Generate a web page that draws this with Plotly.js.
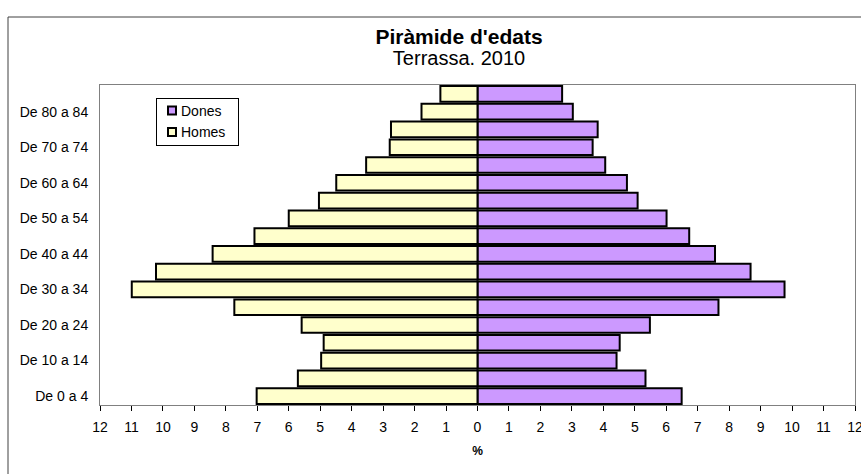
<!DOCTYPE html>
<html>
<head>
<meta charset="utf-8">
<script src="https://cdn.plot.ly/plotly-3.0.1.min.js"></script>
<style>html,body{margin:0;padding:0;background:#fff;}#chart{width:861px;height:474px;}</style>
</head>
<body>
<div id="chart"></div>
<script>
const ageGroups = ["De 0 a 4","De 5 a 9","De 10 a 14","De 15 a 19","De 20 a 24","De 25 a 29","De 30 a 34","De 35 a 39","De 40 a 44","De 45 a 49","De 50 a 54","De 55 a 59","De 60 a 64","De 65 a 69","De 70 a 74","De 75 a 79","De 80 a 84","De 85 i més"];
const shownAgeLabels = ["De 0 a 4","De 10 a 14","De 20 a 24","De 30 a 34","De 40 a 44","De 50 a 54","De 60 a 64","De 70 a 74","De 80 a 84"];
const dones = [6.49,5.34,4.42,4.52,5.48,7.66,9.76,8.68,7.55,6.73,6.01,5.09,4.75,4.06,3.66,3.82,3.03,2.69];
const homes = [7.02,5.71,4.97,4.89,5.59,7.73,10.99,10.22,8.42,7.09,6.00,5.04,4.49,3.54,2.79,2.75,1.78,1.18];
const xTickValues = [-12,-11,-10,-9,-8,-7,-6,-5,-4,-3,-2,-1,0,1,2,3,4,5,6,7,8,9,10,11,12];
const xTickLabels = ["12","11","10","9","8","7","6","5","4","3","2","1","0","1","2","3","4","5","6","7","8","9","10","11","12"];

const font = "Arial, 'Liberation Sans', sans-serif";

const traces = [
  {
    type: "bar", orientation: "h", name: "Dones",
    y: ageGroups, x: dones,
    marker: {color: "#CC99FF", line: {color: "#000000", width: 2}}
  },
  {
    type: "bar", orientation: "h", name: "Homes",
    y: ageGroups, x: homes.map(v => -v),
    marker: {color: "#FFFFCC", line: {color: "#000000", width: 2}}
  }
];

const layout = {
  width: 861, height: 474,
  margin: {l: 100, r: 6, t: 85, b: 69},
  paper_bgcolor: "#ffffff", plot_bgcolor: "#ffffff",
  font: {family: font, size: 14, color: "#000000"},
  barmode: "overlay",
  bargap: 0.12,
  showlegend: true,
  title: {
    text: "<span style='font-size:21px'><b>Piràmide d'edats</b></span><br><span style='font-size:20px'>Terrassa. 2010</span>",
    x: 459/861, xanchor: "center",
    y: 1 - 44/474, yanchor: "top",
    font: {family: font, size: 16, color: "#000000"}
  },
  legend: {
    x: (156-100)/755, y: 1 - (98-85)/320, xanchor: "left", yanchor: "top",
    bgcolor: "#ffffff", bordercolor: "#000000", borderwidth: 1,
    font: {family: font, size: 14, color: "#000000"},
    traceorder: "normal", itemwidth: 30,
    tracegroupgap: 0
  },
  xaxis: {
    range: [-12, 12],
    tickmode: "array", tickvals: xTickValues, ticktext: xTickLabels,
    ticks: "outside", ticklen: 5, tickcolor: "#000000",
    ticklabeloverflow: "allow",
    ticklabelstandoff: 4,
    showline: true, linecolor: "#808080", linewidth: 1, mirror: true,
    showgrid: false, zeroline: false,
    tickfont: {family: font, size: 14, color: "#000000"},
    title: {text: "<b>%</b>", font: {family: font, size: 12, color: "#000000"}, standoff: 12},
    fixedrange: true
  },
  yaxis: {
    type: "category", categoryorder: "array", categoryarray: ageGroups,
    tickmode: "array", tickvals: shownAgeLabels, ticktext: shownAgeLabels,
    ticks: "", showline: true, linecolor: "#808080", linewidth: 1, mirror: true,
    showgrid: false, zeroline: false,
    tickfont: {family: font, size: 14, color: "#000000"},
    ticklabelstandoff: 8,
    fixedrange: true
  },
  shapes: [
    {type: "rect", xref: "paper", yref: "paper",
     x0: (8-100)/755, x1: 1.2, y0: -0.5, y1: 1 + (85-17)/320,
     line: {color: "#404040", width: 1}, fillcolor: "rgba(0,0,0,0)", layer: "below"}
  ]
};

function compactLegend(gd) {
  // Excel-like legend: small square keys, text close to the keys, tighter rows
  const leg = gd.querySelector("g.legend");
  if (!leg) return;
  let maxW = 0;
  leg.querySelectorAll("g.traces").forEach(function (tr, i) {
    tr.setAttribute("transform", "translate(1," + (12.5 + 21.5 * i) + ")");
    const t = tr.querySelector("text.legendtext");
    if (t) {
      t.setAttribute("x", 24);
      maxW = Math.max(maxW, t.getComputedTextLength());
    }
    tr.querySelectorAll(".legendpoints path").forEach(function (p) {
      p.setAttribute("d", "M4,4H-4V-4H4Z");
      p.setAttribute("transform", "translate(15,0)");
    });
  });
  const bg = leg.querySelector("rect.bg");
  if (bg) {
    if (maxW > 0) bg.setAttribute("width", Math.round(24 + maxW + 14));
    bg.setAttribute("height", 47);
  }
}

Plotly.newPlot("chart", traces, layout, {displayModeBar: false, staticPlot: true}).then(function (gd) {
  compactLegend(gd);
  gd.on("plotly_afterplot", function () { compactLegend(gd); });
  setTimeout(function () { compactLegend(gd); }, 0);
});
</script>
</body>
</html>
